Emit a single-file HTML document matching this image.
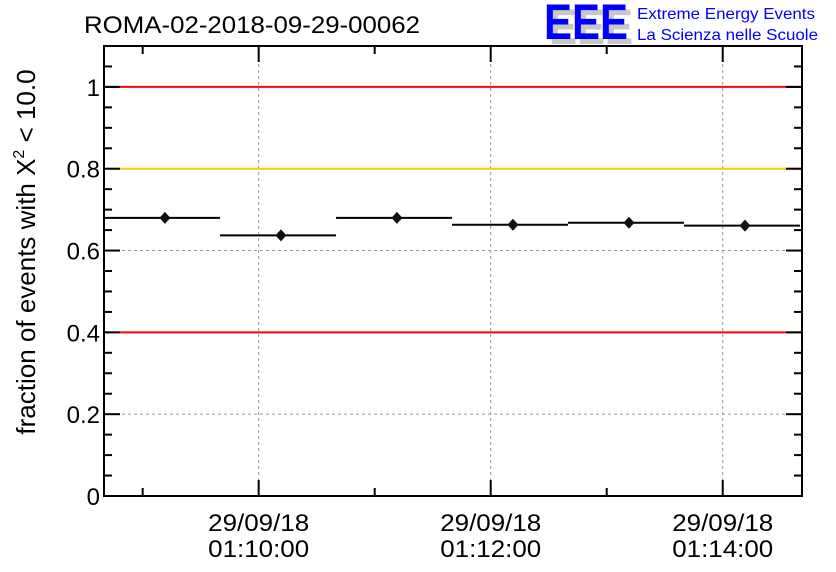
<!DOCTYPE html>
<html><head><meta charset="utf-8"><style>
body{margin:0;background:#fff;}
svg{display:block;font-family:"Liberation Sans",sans-serif;}
</style></head><body>
<svg id="chart" width="836" height="572" viewBox="0 0 836 572">
<text x="84" y="33" font-size="24" textLength="336" lengthAdjust="spacingAndGlyphs">ROMA-02-2018-09-29-00062</text>
<g>
<text x="549" y="44" font-size="50" font-weight="bold" fill="#c8c8c8" textLength="84" lengthAdjust="spacingAndGlyphs">EEE</text>
<text x="544" y="39" font-size="50" font-weight="bold" fill="#0000ff" textLength="84" lengthAdjust="spacingAndGlyphs">EEE</text>
<text x="637" y="19" font-size="16" fill="#0000ff" textLength="178" lengthAdjust="spacingAndGlyphs">Extreme Energy Events</text>
<text x="637" y="40" font-size="16" fill="#0000ff" textLength="181" lengthAdjust="spacingAndGlyphs">La Scienza nelle Scuole</text>
</g>
<text transform="translate(35,252) rotate(-90)" text-anchor="middle" font-size="26">fraction of events with X<tspan font-size="16" dy="-11">2</tspan><tspan dy="11"> &lt; 10.0</tspan></text>
<g id="grid"></g><g id="refs"></g><g id="marks"></g><g id="axes"></g>
</svg>
<script>
const binStarts=["01:08:40","01:09:40","01:10:40","01:11:40","01:12:40","01:13:40"];
const binWidthSec=[60,60,60,60,60,60];
const fractions=[0.680,0.637,0.680,0.663,0.668,0.661];
const errors=[0.012,0.012,0.012,0.012,0.012,0.012];
const xTickLabels=["01:10:00","01:12:00","01:14:00"];
const xMinorTicks=["01:09:00","01:11:00","01:13:00"];
const yTicks=[0,0.2,0.4,0.6,0.8,1];
const yTickLabels=["0","0.2","0.4","0.6","0.8","1"];
const refLines=[1,0.8,0.4];
const refColors=["#ff0000","#ffcc00","#ff0000"];
const NS="http://www.w3.org/2000/svg";
const L=104,R=802,T=46,B=496;
const tsec=s=>{const p=s.split(":").map(Number);return p[0]*3600+p[1]*60+p[2];};
const x0=tsec("01:08:40"),x1=tsec("01:14:41");
const X=t=>L+(t-x0)/(x1-x0)*(R-L);
const Y=v=>B-v/1.1*(B-T);
function el(tag,attrs,parent){const e=document.createElementNS(NS,tag);for(const k in attrs)e.setAttribute(k,attrs[k]);document.getElementById(parent).appendChild(e);return e;}
yTicks.forEach((v,i)=>{if(v>0){const g=el('line',{x1:L,x2:R,y1:Y(v),y2:Y(v),stroke:'#999','stroke-dasharray':'3,3'},'grid');

}
const t=el('text',{x:L-4,y:Y(v)+9,'text-anchor':'end','font-size':'24'},'axes');t.textContent=yTickLabels[i];

});
xTickLabels.forEach(s=>{const x=X(tsec(s));const g=el('line',{x1:x,x2:x,y1:T,y2:B,stroke:'#999','stroke-dasharray':'3,3'},'grid');


const t=el('text',{x:x,y:531,'text-anchor':'middle','font-size':'24',textLength:'101',lengthAdjust:'spacingAndGlyphs'},'axes');t.textContent="29/09/18";


const t2=el('text',{x:x,y:557,'text-anchor':'middle','font-size':'24',textLength:'101',lengthAdjust:'spacingAndGlyphs'},'axes');t2.textContent=s;


[[B,B-16],[T,T+16]].forEach(p=>el('line',{x1:x,x2:x,y1:p[0],y2:p[1],stroke:'#000','stroke-width':2},'axes'));});
xMinorTicks.forEach(s=>{const x=X(tsec(s));[[B,B-8],[T,T+8]].forEach(p=>el('line',{x1:x,x2:x,y1:p[0],y2:p[1],stroke:'#000','stroke-width':2},'axes'));});
for(let v=0;v<=1.1001;v+=0.05){const maj=Math.abs(v/0.2-Math.round(v/0.2))<1e-6;const len=maj?16:8;
el('line',{x1:L,x2:L+len,y1:Y(v),y2:Y(v),stroke:'#000','stroke-width':2},'axes');
el('line',{x1:R,x2:R-len,y1:Y(v),y2:Y(v),stroke:'#000','stroke-width':2},'axes');}
refLines.forEach((v,i)=>{const l=el('line',{x1:L,x2:R,y1:Y(v),y2:Y(v),stroke:refColors[i],'stroke-width':2},'refs');

});
fractions.forEach((f,i)=>{const s=tsec(binStarts[i]);const xa=X(s),xb=X(s+binWidthSec[i]),xc=X(s+binWidthSec[i]/2+1.5),y=Y(f);
const h=el('line',{x1:xa,x2:xb,y1:y,y2:y,stroke:'#000','stroke-width':2},'marks');


el('line',{x1:xc,x2:xc,y1:Y(f+errors[i]),y2:Y(f-errors[i]),stroke:'#000','stroke-width':2},'marks');
const d=el('path',{d:`M${xc},${y-6}L${xc+5.5},${y}L${xc},${y+6}L${xc-5.5},${y}Z`,fill:'#111'},'marks');

});
const f=el('rect',{x:L,y:T,width:R-L,height:B-T,fill:'none',stroke:'#000','stroke-width':2},'axes');


</script>
</body></html>
